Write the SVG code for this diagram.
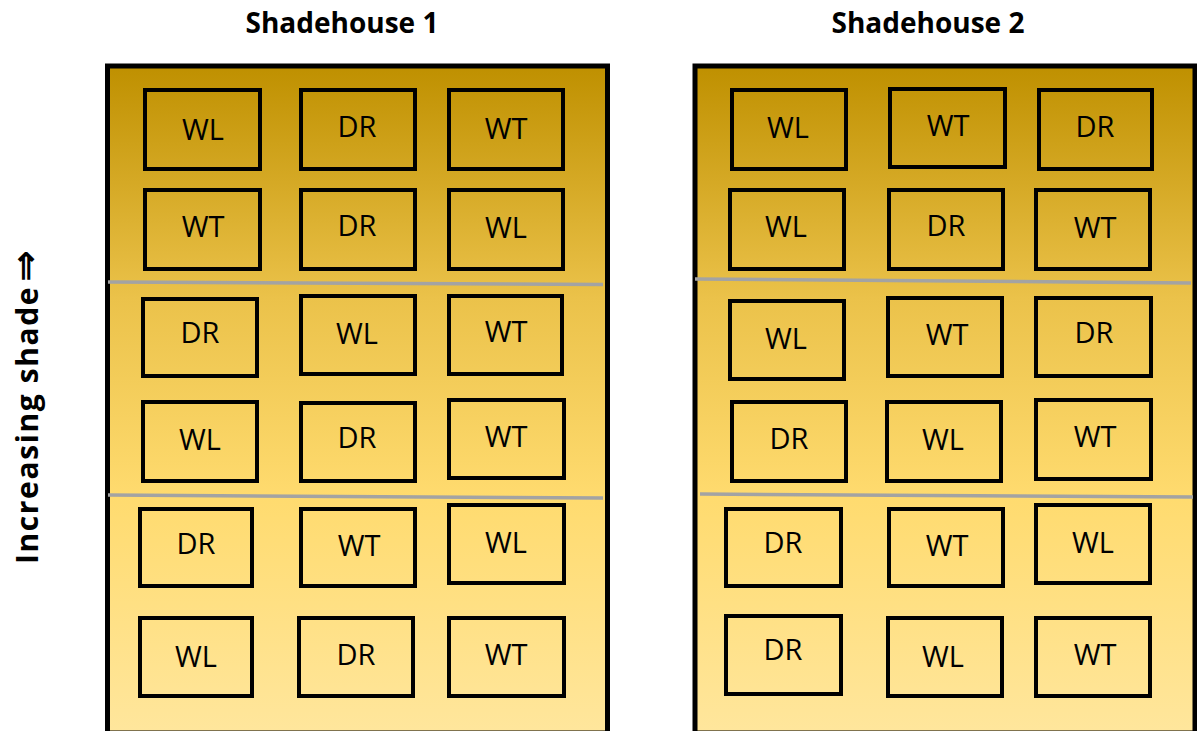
<svg xmlns="http://www.w3.org/2000/svg" width="1197" height="731" viewBox="0 0 1197 731">
  <defs>
    <linearGradient id="shadeFill" gradientUnits="userSpaceOnUse" x1="0" y1="66" x2="0" y2="731">
      <stop offset="0" stop-color="#BF9000"/>
      <stop offset="0.35" stop-color="#EBC24A"/>
      <stop offset="0.65" stop-color="#FFDB6F"/>
      <stop offset="1" stop-color="#FFE69C"/>
    </linearGradient>
    <style>
      .house { fill: url(#shadeFill); stroke: #000; stroke-width: 5; }
      .plot { fill: none; stroke: #000; stroke-width: 4; }
      .lbl { font-family: "Open Sans", "Noto Sans", sans-serif; font-size: 29px; fill: #000; text-anchor: middle; }
      .title { font-family: "Open Sans", "Noto Sans", sans-serif; font-size: 28px; font-weight: bold; fill: #000; text-anchor: middle; }
      .side { font-family: "Open Sans", "Noto Sans", sans-serif; font-size: 30px; font-weight: bold; fill: #000; letter-spacing: 1.6px; }
      .arrow { font-family: "DejaVu Sans", sans-serif; font-weight: bold; font-size: 38px; letter-spacing: 0; }
      .divider { stroke: #A3A3A3; stroke-width: 3.5; fill: none; }
    </style>
  </defs>

  <rect width="1197" height="731" fill="#FFFFFF"/>

  <!-- titles -->
  <text class="title" x="342" y="33">Shadehouse 1</text>
  <text class="title" x="928" y="33">Shadehouse 2</text>

  <!-- side label -->
  <text class="side" transform="translate(38,564) rotate(-90)" x="0" y="0">Increasing shade<tspan class="arrow" dx="4">⇒</tspan></text>

  <!-- shadehouse frames -->
  <g id="shadehouse-1">
    <rect class="house" x="107.5" y="66" width="500" height="667"/>
  </g>
  <g id="shadehouse-2">
    <rect class="house" x="695" y="66" width="500" height="667"/>
  </g>

  <!-- block dividers -->
  <g id="dividers">
    <line class="divider" x1="108" y1="282" x2="603" y2="284.5"/>
    <line class="divider" x1="108" y1="495" x2="603" y2="498"/>
    <line class="divider" x1="695" y1="279" x2="1191" y2="283"/>
    <line class="divider" x1="700" y1="494" x2="1193" y2="497"/>
  </g>

  <!-- Shadehouse 1 plots -->
  <g id="h1-r1-c1"><rect class="plot" x="145" y="90" width="115" height="79"/><text class="lbl" x="203" y="140">WL</text></g>
  <g id="h1-r1-c2"><rect class="plot" x="301" y="90" width="114" height="79"/><text class="lbl" x="357" y="137">DR</text></g>
  <g id="h1-r1-c3"><rect class="plot" x="449" y="90" width="114" height="79"/><text class="lbl" x="506" y="139">WT</text></g>

  <g id="h1-r2-c1"><rect class="plot" x="145" y="190" width="115" height="79"/><text class="lbl" x="203" y="237">WT</text></g>
  <g id="h1-r2-c2"><rect class="plot" x="301" y="190" width="114" height="79"/><text class="lbl" x="357" y="236">DR</text></g>
  <g id="h1-r2-c3"><rect class="plot" x="449" y="190" width="114" height="79"/><text class="lbl" x="506" y="238">WL</text></g>

  <g id="h1-r3-c1"><rect class="plot" x="143" y="299" width="114" height="77"/><text class="lbl" x="200" y="343">DR</text></g>
  <g id="h1-r3-c2"><rect class="plot" x="301" y="296" width="114" height="78"/><text class="lbl" x="357" y="344">WL</text></g>
  <g id="h1-r3-c3"><rect class="plot" x="449" y="296" width="113" height="78"/><text class="lbl" x="506" y="342">WT</text></g>

  <g id="h1-r4-c1"><rect class="plot" x="143" y="402" width="114" height="79"/><text class="lbl" x="200" y="450">WL</text></g>
  <g id="h1-r4-c2"><rect class="plot" x="301" y="403" width="114" height="78"/><text class="lbl" x="357" y="448">DR</text></g>
  <g id="h1-r4-c3"><rect class="plot" x="449" y="400" width="115" height="78"/><text class="lbl" x="506" y="447">WT</text></g>

  <g id="h1-r5-c1"><rect class="plot" x="140" y="509" width="112" height="77"/><text class="lbl" x="196" y="554">DR</text></g>
  <g id="h1-r5-c2"><rect class="plot" x="301" y="509" width="114" height="77"/><text class="lbl" x="359" y="556">WT</text></g>
  <g id="h1-r5-c3"><rect class="plot" x="449" y="505" width="115" height="78"/><text class="lbl" x="506" y="553">WL</text></g>

  <g id="h1-r6-c1"><rect class="plot" x="140" y="618" width="112" height="78"/><text class="lbl" x="196" y="667">WL</text></g>
  <g id="h1-r6-c2"><rect class="plot" x="299" y="618" width="114" height="78"/><text class="lbl" x="356" y="665">DR</text></g>
  <g id="h1-r6-c3"><rect class="plot" x="449" y="618" width="115" height="78"/><text class="lbl" x="506" y="665">WT</text></g>

  <!-- Shadehouse 2 plots -->
  <g id="h2-r1-c1"><rect class="plot" x="732" y="90" width="114" height="79"/><text class="lbl" x="788" y="138">WL</text></g>
  <g id="h2-r1-c2"><rect class="plot" x="890" y="89" width="115" height="78"/><text class="lbl" x="948" y="136">WT</text></g>
  <g id="h2-r1-c3"><rect class="plot" x="1039" y="90" width="113" height="79"/><text class="lbl" x="1095" y="137">DR</text></g>

  <g id="h2-r2-c1"><rect class="plot" x="730" y="190" width="114" height="79"/><text class="lbl" x="786" y="237">WL</text></g>
  <g id="h2-r2-c2"><rect class="plot" x="889" y="190" width="114" height="79"/><text class="lbl" x="946" y="236">DR</text></g>
  <g id="h2-r2-c3"><rect class="plot" x="1036" y="190" width="114" height="79"/><text class="lbl" x="1095" y="238">WT</text></g>

  <g id="h2-r3-c1"><rect class="plot" x="730" y="301" width="114" height="78"/><text class="lbl" x="786" y="349">WL</text></g>
  <g id="h2-r3-c2"><rect class="plot" x="888" y="298" width="114" height="78"/><text class="lbl" x="947" y="345">WT</text></g>
  <g id="h2-r3-c3"><rect class="plot" x="1036" y="298" width="115" height="78"/><text class="lbl" x="1094" y="343">DR</text></g>

  <g id="h2-r4-c1"><rect class="plot" x="732" y="402" width="114" height="79"/><text class="lbl" x="789" y="449">DR</text></g>
  <g id="h2-r4-c2"><rect class="plot" x="887" y="402" width="114" height="79"/><text class="lbl" x="943" y="450">WL</text></g>
  <g id="h2-r4-c3"><rect class="plot" x="1036" y="400" width="115" height="79"/><text class="lbl" x="1095" y="447">WT</text></g>

  <g id="h2-r5-c1"><rect class="plot" x="726" y="509" width="115" height="77"/><text class="lbl" x="783" y="553">DR</text></g>
  <g id="h2-r5-c2"><rect class="plot" x="889" y="509" width="114" height="77"/><text class="lbl" x="947" y="556">WT</text></g>
  <g id="h2-r5-c3"><rect class="plot" x="1036" y="505" width="114" height="78"/><text class="lbl" x="1093" y="553">WL</text></g>

  <g id="h2-r6-c1"><rect class="plot" x="726" y="616" width="115" height="78"/><text class="lbl" x="783" y="660">DR</text></g>
  <g id="h2-r6-c2"><rect class="plot" x="888" y="618" width="114" height="78"/><text class="lbl" x="943" y="667">WL</text></g>
  <g id="h2-r6-c3"><rect class="plot" x="1036" y="618" width="114" height="78"/><text class="lbl" x="1095" y="665">WT</text></g>
</svg>
